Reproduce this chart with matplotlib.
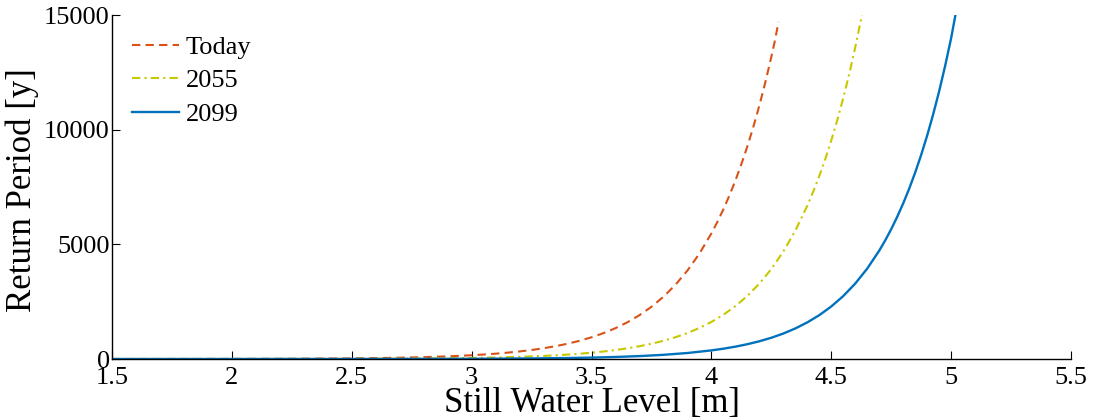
import matplotlib
matplotlib.use("Agg")
import matplotlib.pyplot as plt

plt.rcParams['font.family'] = ['Liberation Serif', 'DejaVu Serif']

# Still water level [m] vs return period [y]
x_today = [1.5, 2.0, 2.25, 2.5, 2.6, 2.7, 2.8, 2.9, 3.0, 3.05, 3.1, 3.15, 3.2,
           3.25, 3.3, 3.35, 3.4, 3.45, 3.5, 3.55, 3.6, 3.65, 3.7, 3.75, 3.8,
           3.85, 3.9, 3.95, 4.0, 4.025, 4.05, 4.075, 4.1, 4.125, 4.15, 4.175,
           4.2, 4.225, 4.25, 4.265, 4.28]
y_today = [1, 5, 12, 28, 40, 57, 81, 115, 164, 195, 232, 277, 330,
           393, 469, 559, 666, 794, 946, 1128, 1344, 1602, 1910, 2276, 2713,
           3234, 3854, 4594, 5475, 5977, 6526, 7124, 7778, 8491, 9270, 10120,
           11049, 12061, 13170, 13879, 14700]

x_2055 = [1.5, 2.0, 2.5, 2.6, 2.8, 2.9, 3.0, 3.1, 3.2, 3.25, 3.3, 3.35, 3.4,
          3.45, 3.5, 3.55, 3.6, 3.65, 3.7, 3.75, 3.8, 3.85, 3.9, 3.95, 4.0,
          4.05, 4.1, 4.15, 4.2, 4.25, 4.3, 4.35, 4.4, 4.425, 4.45, 4.475,
          4.5, 4.525, 4.55, 4.575, 4.6, 4.628]
y_2055 = [0.2, 1.3, 8, 11, 23, 32, 46, 66, 94, 113, 134, 161, 192,
          229, 274, 327, 390, 466, 557, 665, 794, 948, 1132, 1352, 1615,
          1929, 2303, 2750, 3285, 3922, 4684, 5594, 6680, 7300, 7977, 8718,
          9526, 10410, 11376, 12432, 13585, 15000]

x_2099 = [1.5, 2.0, 2.5, 3.0, 3.25, 3.4, 3.5, 3.6, 3.7, 3.8, 3.9, 4.0, 4.05,
          4.1, 4.15, 4.2, 4.25, 4.3, 4.35, 4.4, 4.45, 4.5, 4.55, 4.6, 4.65,
          4.7, 4.725, 4.75, 4.775, 4.8, 4.825, 4.85, 4.875, 4.9, 4.925, 4.95,
          4.975, 5.0, 5.018]
y_2099 = [0.04, 0.3, 1.6, 10, 25, 43, 61, 88, 127, 182, 261, 375, 449,
          538, 645, 773, 926, 1110, 1331, 1595, 1911, 2290, 2744, 3289, 3941,
          4723, 5170, 5660, 6196, 6783, 7425, 8129, 8899, 9741, 10664, 11674,
          12780, 13990, 15000]

series_labels = ['Today', '2055', '2099']
x_ticks = [1.5, 2, 2.5, 3, 3.5, 4, 4.5, 5, 5.5]
x_ticklabels = ['1.5', '2', '2.5', '3', '3.5', '4', '4.5', '5', '5.5']
y_ticks = [0, 5000, 10000, 15000]
y_ticklabels = ['0', '5000', '10000', '15000']

fig = plt.figure(figsize=(10.94, 4.2), dpi=100)
ax = fig.add_axes([112/1094, 61/420, (1071-112)/1094, (359-15)/420])

ax.plot(x_today, y_today, color='#D95319', lw=1.5, linestyle=(0, (4, 2.5)),
        label=series_labels[0])
ax.plot(x_2055, y_2055, color='#C8C800', lw=1.5, linestyle=(0, (4, 2, 1, 2)),
        label=series_labels[1])
ax.plot(x_2099, y_2099, color='#0072BD', lw=1.7, linestyle='-',
        label=series_labels[2])

ax.set_xlim(1.5, 5.5)
ax.set_ylim(0, 15000)
ax.set_xticks(x_ticks)
ax.set_xticklabels(x_ticklabels)
ax.set_yticks(y_ticks)
ax.set_yticklabels(y_ticklabels)

ax.spines['top'].set_visible(False)
ax.spines['right'].set_visible(False)
for s in ('left', 'bottom'):
    ax.spines[s].set_linewidth(1.0)
ax.tick_params(direction='in', length=6, width=0.8, labelsize=19)
ax.tick_params(axis='x', pad=6)
ax.tick_params(axis='y', pad=1.6)

ax.set_xlabel('Still Water Level [m]', fontsize=25)
ax.xaxis.set_label_coords(0.5, -0.081)
ax.set_ylabel('Return Period [y]', fontsize=25)
ax.yaxis.set_label_coords(-0.0761, 0.49)

leg = ax.legend(loc='upper left', frameon=False, fontsize=19,
                handlelength=1.8, handletextpad=0.25, labelspacing=0.38,
                bbox_to_anchor=(-0.004, 1.01))

fig.savefig('out.png', dpi=100)
